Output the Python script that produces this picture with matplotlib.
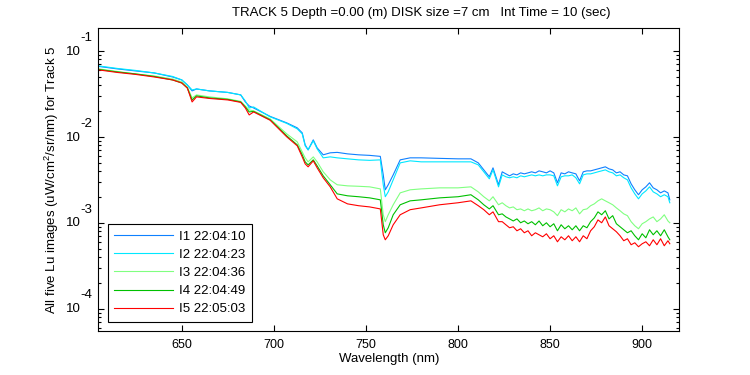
import numpy as np
import matplotlib
matplotlib.use("Agg")
import matplotlib.pyplot as plt
from matplotlib.ticker import LogLocator, NullFormatter, FixedLocator

plt.rcParams['font.family'] = ['Liberation Sans', 'DejaVu Sans']
plt.rcParams['mathtext.fontset'] = 'custom'
plt.rcParams['mathtext.rm'] = 'Liberation Sans'
plt.rcParams['mathtext.it'] = 'Liberation Sans'

#### data ####

wavelength = [605, 615, 625, 635, 645, 650, 653, 655.6, 658, 665, 675, 682, 684.5, 686.6, 689,
              698, 707, 712.7, 715.4, 717, 718.6, 721.4, 723.5, 726.8, 730.6, 734.4, 740, 746, 752,
              757.8, 759.4, 760.5, 762.1, 764.8, 768.6, 774, 780, 790, 800, 807, 811, 814, 817, 819,
              822, 824,
              826, 828, 830, 832, 834, 836, 838, 840, 842, 844, 846, 848, 850, 852, 854, 856, 858,
              860, 862, 864, 866, 868, 870, 872, 874, 876, 878, 880, 882, 884, 886, 888, 890, 892,
              894, 896, 898, 900, 902, 904, 906, 908, 910, 912, 914, 915]

lu_i1 = [0.0660, 0.0618, 0.0585, 0.0555, 0.0498, 0.0460, 0.0402, 0.0343, 0.0361, 0.0343, 0.0329,
         0.0308, 0.0255, 0.0229, 0.0217, 0.0173, 0.01455, 0.01273, 0.01113, 0.00807, 0.00706,
         0.00923, 0.00745, 0.00618, 0.00652, 0.00660, 0.00634, 0.00618, 0.00609, 0.00593, 0.00361,
         0.00242, 0.00277, 0.00361, 0.00540, 0.00570, 0.00570, 0.00562, 0.00555, 0.00555, 0.00498,
         0.00413, 0.00343, 0.00436, 0.00277, 0.00392,
         0.00371, 0.00352, 0.00371, 0.00361, 0.00381, 0.00371, 0.00381, 0.00392, 0.00381, 0.00402,
         0.00392, 0.00381, 0.00402, 0.00381, 0.00292, 0.00381, 0.00371, 0.00392, 0.00381, 0.00371,
         0.00308, 0.00392, 0.00402, 0.00402, 0.00413, 0.00424, 0.00436, 0.00448, 0.00424, 0.00413,
         0.00381, 0.00392, 0.00361, 0.00352, 0.00284, 0.00242, 0.00212, 0.00242, 0.00262, 0.00292,
         0.00255, 0.00242, 0.00223, 0.00235, 0.00223, 0.00185]

lu_i2 = [0.0669, 0.0626, 0.0593, 0.0555, 0.0505, 0.0460, 0.0402, 0.0352, 0.0361, 0.0343, 0.0329,
         0.0308, 0.0262, 0.0217, 0.0223, 0.0171, 0.01435, 0.01239, 0.01084, 0.00786, 0.00706,
         0.00899, 0.00725, 0.00570, 0.00585, 0.00570, 0.00555, 0.00540, 0.00533, 0.00540, 0.00277,
         0.00201, 0.00229, 0.00316, 0.00498, 0.00526, 0.00512, 0.00512, 0.00512, 0.00512, 0.00472,
         0.00392, 0.00325, 0.00413, 0.00262, 0.00361,
         0.00343, 0.00334, 0.00343, 0.00334, 0.00352, 0.00343, 0.00352, 0.00361, 0.00352, 0.00361,
         0.00352, 0.00361, 0.00361, 0.00352, 0.00269, 0.00343, 0.00352, 0.00352, 0.00361, 0.00334,
         0.00284, 0.00361, 0.00371, 0.00371, 0.00381, 0.00392, 0.00402, 0.00413, 0.00392, 0.00381,
         0.00352, 0.00361, 0.00334, 0.00316, 0.00255, 0.00217, 0.00190, 0.00217, 0.00235, 0.00262,
         0.00229, 0.00217, 0.00201, 0.00212, 0.00201, 0.00171]

lu_i3 = [0.0618, 0.0577, 0.0540, 0.0512, 0.0472, 0.0436, 0.0381, 0.0284, 0.0308, 0.0292, 0.0277,
         0.0259, 0.0229, 0.0206, 0.0201, 0.0162, 0.01084, 0.00875, 0.00669, 0.00570, 0.00512,
         0.00585, 0.00512, 0.00392, 0.00316, 0.00277, 0.00269, 0.00266, 0.00262, 0.00248, 0.00124,
         0.00103, 0.00124, 0.00162, 0.00223, 0.00242, 0.00248, 0.00255, 0.00255, 0.00262, 0.00229,
         0.00201, 0.00180, 0.00201, 0.00162, 0.00171,
         0.00158, 0.00149, 0.00153, 0.00142, 0.00145, 0.00138, 0.00145, 0.00138, 0.00142, 0.00149,
         0.00138, 0.00145, 0.00142, 0.00134, 0.00121, 0.00142, 0.00134, 0.00145, 0.00138, 0.00149,
         0.00127, 0.00142, 0.00145, 0.00158, 0.00166, 0.00180, 0.00190, 0.00180, 0.00171, 0.00162,
         0.00149, 0.00138, 0.00127, 0.00121, 0.00103, 0.000923, 0.000852, 0.000974, 0.00103, 0.00111,
         0.00117, 0.00103, 0.00111, 0.00124, 0.00105, 0.00100]

lu_i4 = [0.0609, 0.0570, 0.0540, 0.0505, 0.0460, 0.0424, 0.0371, 0.0269, 0.0300, 0.0284, 0.0273,
         0.0255, 0.0223, 0.0195, 0.0198, 0.0158, 0.01027, 0.00807, 0.00618, 0.00512, 0.00472,
         0.00540, 0.00460, 0.00352, 0.00277, 0.00217, 0.00206, 0.00201, 0.00195, 0.00185, 0.000948,
         0.000765, 0.000875, 0.00124, 0.00162, 0.00180, 0.00185, 0.00195, 0.00201, 0.00212, 0.00185,
         0.00162, 0.00145, 0.00158, 0.00124, 0.00127,
         0.00117, 0.00111, 0.00105, 0.00111, 0.00100, 0.00105, 0.000974, 0.00103, 0.000948, 0.00105,
         0.000923, 0.00100, 0.000899, 0.000974, 0.000807, 0.000948, 0.000852, 0.000923, 0.000829,
         0.000923, 0.000807, 0.000923, 0.000875, 0.00103, 0.00114, 0.00134, 0.00124, 0.00138,
         0.00111, 0.00121, 0.000974, 0.000899, 0.000829, 0.000765, 0.000807, 0.000706, 0.000634,
         0.000745, 0.000669, 0.000829, 0.000725, 0.000807, 0.000706, 0.000829, 0.000687, 0.000634]

lu_i5 = [0.0601, 0.0562, 0.0533, 0.0498, 0.0460, 0.0424, 0.0371, 0.0255, 0.0292, 0.0280, 0.0269,
         0.0252, 0.0217, 0.0180, 0.0195, 0.0156, 0.0100, 0.00786, 0.00585, 0.00485, 0.00448,
         0.00526, 0.00436, 0.00334, 0.00262, 0.00190, 0.00166, 0.00158, 0.00153, 0.00145, 0.000725,
         0.000634, 0.000706, 0.000948, 0.00124, 0.00142, 0.00149, 0.00162, 0.00171, 0.00180, 0.00158,
         0.00142, 0.00124, 0.00134, 0.00103, 0.00103,
         0.000948, 0.000875, 0.000899, 0.000807, 0.000852, 0.000765, 0.000807, 0.000706, 0.000765,
         0.000725, 0.000687, 0.000745, 0.000652, 0.000706, 0.000601, 0.000687, 0.000634, 0.000706,
         0.000618, 0.000687, 0.000601, 0.000706, 0.000652, 0.000807, 0.000899, 0.00108, 0.00100,
         0.00117, 0.000923, 0.000852, 0.000786, 0.000706, 0.000618, 0.000652, 0.000555, 0.000585,
         0.000526, 0.000570, 0.000601, 0.000540, 0.000634, 0.000555, 0.000652, 0.000540, 0.000618,
         0.000570]

labels = ['I1 22:04:10', 'I2 22:04:23', 'I3 22:04:36', 'I4 22:04:49', 'I5 22:05:03']
colors = ['#0f80ff', '#00e8ff', '#80ff80', '#00c000', '#ff0000']

x_ticks = [650, 700, 750, 800, 850, 900]
decades = [-1, -2, -3, -4]

title = 'TRACK 5 Depth =0.00 (m) DISK size =7 cm   Int Time = 10 (sec)'

#### figure ####

fig = plt.figure(figsize=(7.5, 3.75), dpi=100)
ax = fig.add_axes([98/750, 44/375, 581/750, 303/375])

series = [lu_i1, lu_i2, lu_i3, lu_i4, lu_i5]
for vals, lab, col in zip(series, labels, colors):
    ax.plot(wavelength, vals, color=col, lw=0.8, label=lab)

ax.set_yscale('log')
ax.set_xlim(604.5, 920)
ax.set_ylim(5.5e-5, 0.185)

fs = 9
ax.xaxis.set_major_locator(FixedLocator(x_ticks))
ax.set_xticklabels([str(t) for t in x_ticks], fontsize=fs)
ax.yaxis.set_major_locator(FixedLocator([10.0**k for k in decades]))
ax.yaxis.set_minor_locator(LogLocator(base=10, subs=np.arange(2, 10)))
ax.yaxis.set_major_formatter(NullFormatter())
ax.yaxis.set_minor_formatter(NullFormatter())
ax.tick_params(which='both', direction='in', top=True, right=True, width=0.8)
ax.tick_params(which='major', length=4)
ax.tick_params(axis='x', which='major', pad=6)
ax.tick_params(which='minor', length=2.2)
for s in ax.spines.values():
    s.set_linewidth(0.8)

# matlab style 10 with exponent
for k in decades:
    ax.annotate('10', xy=(0, 10.0**k), xycoords=('axes fraction', 'data'),
                xytext=(-12.3, -0.5), textcoords='offset points',
                ha='right', va='center', fontsize=fs + 0.5)
    ax.annotate(str(k), xy=(0, 10.0**k), xycoords=('axes fraction', 'data'),
                xytext=(-12.5, 9.5), textcoords='offset points',
                ha='left', va='center', fontsize=fs + 0.5)

fig.text(421/750, 1 - 13/375, title, ha='center', va='center', fontsize=fs + 0.5)
fig.text(389/750, 1 - 359/375, 'Wavelength (nm)', ha='center', va='center', fontsize=fs + 0.5)
fig.text(52/750, 1 - 180/375, 'All five Lu images (uW/cm$^2$/sr/nm) for Track 5',
         rotation=90, ha='center', va='center', fontsize=fs + 0.5)

leg = ax.legend(loc='lower left', bbox_to_anchor=(0.017, 0.03), fontsize=fs + 0.5,
                frameon=True, fancybox=False, edgecolor='black', framealpha=1,
                handlelength=4.4, handletextpad=0.5, labelspacing=0.45,
                borderpad=0.5, borderaxespad=0)
leg.get_frame().set_linewidth(0.8)

fig.savefig('out.png', dpi=100)
